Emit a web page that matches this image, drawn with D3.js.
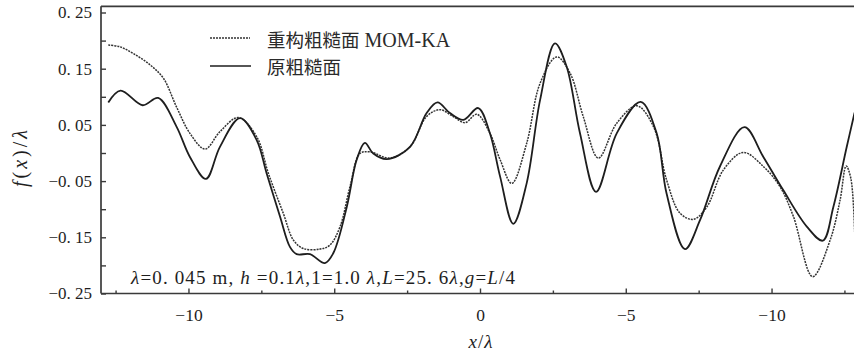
<!DOCTYPE html>
<html>
<head>
<meta charset="utf-8">
<script src="https://cdn.jsdelivr.net/npm/d3@7"></script>
<style>
  html, body { margin: 0; padding: 0; background: #fff; }
  svg { display: block; }
  .serif { font-family: "Liberation Serif", "Times New Roman", Times, "DejaVu Serif", serif; }
  .cjk { font-family: "Noto Sans CJK SC", sans-serif; }
</style>
</head>
<body>
<svg id="chart" width="854" height="355"></svg>
<script>
// Original rough surface profile (x/λ, f(x)/λ)
const origX = [-12.75, -12.33, -11.57, -11.04, -10.41, -9.95, -9.40, -8.92, -8.23, -7.66,
  -7.32, -6.86, -6.52, -6.29, -5.83, -5.32, -5.03, -4.57, -4.23, -3.95,
  -3.66, -3.20, -2.40, -1.83, -1.46, -1.03, -0.57, -0.06, 0.34, 0.69,
  1.14, 1.60, 2.06, 2.57, 2.97, 3.43, 3.98, 4.69, 5.51, 6.06,
  6.40, 7.03, 7.55, 8.23, 9.07, 9.72, 10.40, 11.21, 11.76, 12.12,
  12.58, 12.85];
const origY = [0.090, 0.111, 0.085, 0.098, 0.047, -0.007, -0.046, 0.011, 0.062, 0.023,
  -0.036, -0.113, -0.167, -0.180, -0.180, -0.196, -0.178, -0.096, -0.012, 0.018,
  -0.001, -0.011, 0.011, 0.071, 0.090, 0.071, 0.059, 0.080, 0.035, -0.042,
  -0.126, -0.054, 0.094, 0.195, 0.154, 0.035, -0.069, 0.035, 0.091, 0.035,
  -0.072, -0.171, -0.119, -0.024, 0.046, -0.007, -0.066, -0.131, -0.156, -0.096,
  0.011, 0.072];

// Reconstructed surface (MOM-KA)
const reconX = [-12.75, -12.35, -11.89, -11.32, -10.86, -10.41, -9.95, -9.43, -8.92, -8.29,
  -7.66, -7.26, -6.75, -6.40, -6.06, -5.49, -5.15, -4.80, -4.46, -4.12,
  -3.77, -3.09, -2.40, -1.83, -1.37, -0.92, -0.51, -0.11, 0.34, 0.69,
  1.09, 1.60, 2.06, 2.63, 3.09, 3.54, 4.06, 4.69, 5.38, 5.95,
  6.40, 6.86, 7.32, 7.78, 8.35, 9.03, 9.72, 10.29, 10.75, 11.41,
  12.01, 12.35, 12.56, 12.72, 12.85];
const reconY = [0.192, 0.189, 0.177, 0.157, 0.133, 0.082, 0.035, 0.007, 0.038, 0.063,
  0.029, -0.036, -0.107, -0.155, -0.170, -0.171, -0.164, -0.131, -0.060, -0.001,
  0.002, -0.009, 0.011, 0.065, 0.077, 0.065, 0.054, 0.069, 0.035, -0.012,
  -0.054, 0.017, 0.124, 0.171, 0.142, 0.065, -0.009, 0.053, 0.084, 0.047,
  -0.048, -0.107, -0.118, -0.096, -0.030, 0.001, -0.024, -0.060, -0.113, -0.220,
  -0.155, -0.084, -0.023, -0.045, -0.140];

// Axis ticks and labels
const xMinorTicks = [-12.5, -7.5, -2.5, 2.5, 7.5, 12.5];
const xMajorTicks = [-10, -5, 0, 5, 10];
const xTickLabels = ["\u221210", "\u22125", "0", "\u22125", "\u221210"];
const yTicks = [-0.25, -0.2, -0.15, -0.1, -0.05, 0, 0.05, 0.1, 0.15, 0.2, 0.25];
const yLabelTicks = [-0.25, -0.15, -0.05, 0.05, 0.15, 0.25];
const yTickLabels = ["\u22120. 25", "\u22120. 15", "\u22120. 05", "0. 05", "0. 15", "0. 25"];

const legendLabels = ["重构粗糙面", "原粗糙面"];

const svg = d3.select("#chart");
const ink = "#1e1e1e";
const axisInk = "#3a3a3a";

const x = d3.scaleLinear().domain([-13, 13]).range([101, 859]);
const y = d3.scaleLinear().domain([-0.25, 0.25]).range([293.5, 12.5]);
const yTop = y(0.261);

// curves, clipped to the plot area
svg.append("defs").append("clipPath").attr("id", "plot")
  .append("rect").attr("x", x(-13)).attr("y", yTop)
  .attr("width", x(13) - x(-13)).attr("height", y(-0.25) - yTop);

const line = d3.line().x(d => x(d[0])).y(d => y(d[1])).curve(d3.curveCatmullRom.alpha(0.5));
const plot = svg.append("g").attr("clip-path", "url(#plot)");

plot.append("path")
  .attr("d", line(d3.zip(reconX, reconY)))
  .attr("fill", "none").attr("stroke", "#333").attr("stroke-width", 1.5)
  .attr("stroke-dasharray", "2,1");

plot.append("path")
  .attr("d", line(d3.zip(origX, origY)))
  .attr("fill", "none").attr("stroke", ink).attr("stroke-width", 1.8);

// y axis
const yAxis = d3.axisLeft(y).tickValues(yTicks).tickSize(-5).tickPadding(9)
  .tickFormat(d => {
    const i = yLabelTicks.findIndex(v => Math.abs(v - d) < 1e-9);
    return i >= 0 ? yTickLabels[i] : "";
  });
const gy = svg.append("g").attr("transform", `translate(${x(-13)},0)`).call(yAxis)
  .attr("font-family", null).attr("font-size", 17).attr("class", "serif");
gy.select(".domain").remove();
gy.selectAll(".tick line").attr("stroke", axisInk).attr("stroke-width", 1.4);
gy.selectAll(".tick text").attr("fill", ink);

// x axis: minor and major ticks
const gxMinor = svg.append("g").attr("transform", `translate(0,${y(-0.25)})`)
  .call(d3.axisBottom(x).tickValues(xMinorTicks).tickSize(-3).tickFormat(""));
gxMinor.select(".domain").remove();
gxMinor.selectAll(".tick line").attr("stroke", axisInk).attr("stroke-width", 1.4);

const gx = svg.append("g").attr("transform", `translate(0,${y(-0.25)})`)
  .call(d3.axisBottom(x).tickValues(xMajorTicks).tickSize(-5).tickPadding(15)
    .tickFormat((d, i) => xTickLabels[i]))
  .attr("font-family", null).attr("font-size", 17.5).attr("class", "serif");
gx.select(".domain").remove();
gx.selectAll(".tick line").attr("stroke", axisInk).attr("stroke-width", 1.4);
gx.selectAll(".tick text").attr("fill", ink);

// frame: left, bottom and top border
const frame = svg.append("g").attr("stroke", axisInk).attr("stroke-width", 1.7).attr("fill", "none");
frame.append("line").attr("x1", x(-13)).attr("x2", x(-13)).attr("y1", yTop).attr("y2", y(-0.25));
frame.append("line").attr("x1", x(-13)).attr("x2", x(13)).attr("y1", y(-0.25)).attr("y2", y(-0.25));
frame.append("line").attr("x1", x(-13)).attr("x2", x(13)).attr("y1", yTop).attr("y2", yTop);

// axis titles
const xTitle = svg.append("text").attr("class", "serif").attr("x", 481).attr("y", 348)
  .attr("text-anchor", "middle").attr("fill", ink).attr("font-size", 19).attr("letter-spacing", 1);
xTitle.append("tspan").attr("font-style", "italic").text("x");
xTitle.append("tspan").text("/");
xTitle.append("tspan").attr("font-style", "italic").text("λ");

const yTitle = svg.append("text").attr("class", "serif").attr("transform", "translate(27,157) rotate(-90)")
  .attr("text-anchor", "middle").attr("fill", ink).attr("font-size", 20).attr("letter-spacing", 3);
yTitle.append("tspan").attr("font-style", "italic").text("f");
yTitle.append("tspan").text("(");
yTitle.append("tspan").attr("font-style", "italic").text("x");
yTitle.append("tspan").text(")/");
yTitle.append("tspan").attr("font-style", "italic").text("λ");

// legend
const legend = svg.append("g");
legend.append("line").attr("x1", 210).attr("x2", 250).attr("y1", 38).attr("y2", 38)
  .attr("stroke", "#333").attr("stroke-width", 1.3).attr("stroke-dasharray", "2,1");
legend.append("line").attr("x1", 210).attr("x2", 251).attr("y1", 66).attr("y2", 66)
  .attr("stroke", ink).attr("stroke-width", 1.7);
const l1 = legend.append("text").attr("x", 267).attr("y", 47).attr("fill", "#2a2a2a");
l1.append("tspan").attr("class", "cjk").attr("font-size", 18.5).text(legendLabels[0]);
l1.append("tspan").attr("class", "serif").attr("dx", 5).attr("font-size", 20).text("MOM-KA");
legend.append("text").attr("class", "cjk").attr("x", 267).attr("y", 74).attr("fill", "#2a2a2a")
  .attr("font-size", 18.5).text(legendLabels[1]);

// parameter annotation
const note = svg.append("text").attr("class", "serif").attr("x", 131).attr("y", 284).attr("fill", ink)
  .attr("font-size", 19).attr("textLength", 384).attr("lengthAdjust", "spacing");
const parts = [["λ", 1], ["=0. 045 m, ", 0], ["h", 1], [" =0.1", 0], ["λ", 1], [",1=1.0 ", 0],
  ["λ", 1], [",", 0], ["L", 1], ["=25. 6", 0], ["λ", 1], [",", 0], ["g", 1], ["=", 0], ["L", 1], ["/4", 0]];
parts.forEach(([t, it]) => note.append("tspan").attr("font-style", it ? "italic" : "normal").text(t));
</script>
</body>
</html>
